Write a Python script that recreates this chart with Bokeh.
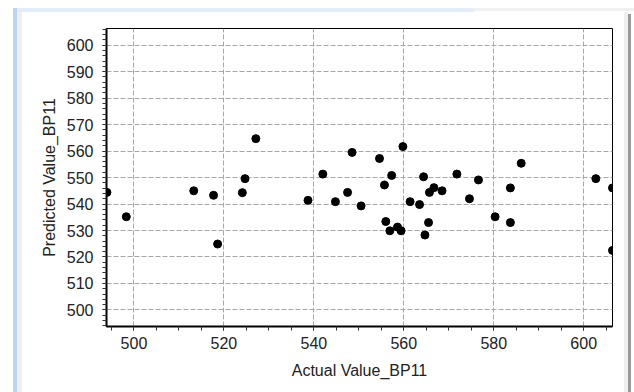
from bokeh.plotting import figure
from bokeh.models import SingleIntervalTicker, Range1d
from bokeh.embed import file_html
from bokeh.resources import INLINE

# Data (Actual vs Predicted, BP11)
actual = [494.0, 498.3, 513.3, 517.7, 518.6, 524.1, 524.7, 527.1,
          538.7, 542.0, 544.8, 547.5, 548.5, 550.5, 554.6, 555.7,
          557.3, 556.0, 556.9, 558.6, 559.4, 559.8, 561.4, 563.5,
          564.4, 565.7, 566.7, 568.5, 565.5, 564.7, 571.8, 574.6,
          576.6, 580.3, 583.7, 583.7, 586.1, 602.7, 606.4, 606.4]
predicted = [544.4, 535.2, 545.0, 543.3, 524.9, 544.3, 549.6, 564.7,
             541.4, 551.3, 540.9, 544.4, 559.5, 539.3, 557.2, 547.2,
             550.8, 533.4, 529.9, 531.3, 529.9, 561.7, 540.9, 539.8,
             550.3, 544.4, 546.2, 545.0, 533.0, 528.3, 551.3, 542.0,
             549.1, 535.2, 546.1, 533.0, 555.4, 549.6, 546.1, 522.5]

x_label = "Actual Value_BP11"
y_label = "Predicted Value_BP11"

FONT = "Liberation Sans"
TXT = "#222222"

p = figure(width=634, height=392, output_backend="svg", toolbar_location=None,
           x_range=Range1d(493.9, 606.4), y_range=Range1d(493.75, 606.3),
           min_border_left=106, min_border_right=22, min_border_top=28,
           min_border_bottom=66)

p.background_fill_color = "white"
p.border_fill_color = None
p.outline_line_color = "black"
p.outline_line_width = 1

# window-like frame around the chart, drawn as CSS backgrounds of the host
layers = [
    ("#9a9a9a", "628px 14px", "3px 378px"),
    ("#f0f0f0", "624px 12px", "4px 380px"),
    ("#bcd4ee", "13px 8px", "4px 384px"),
    ("#efefef", "17px 12px", "5px 380px"),
    ("#e3ecf9", "17px 8px", "457px 4px"),
    ("#f0f0f0", "474px 8px", "160px 3px"),
]
p.styles = {
    "background-color": "white",
    "background-image": ", ".join(f"linear-gradient({c}, {c})" for c, _, _ in layers),
    "background-position": ", ".join(pos for _, pos, _ in layers),
    "background-size": ", ".join(sz for _, _, sz in layers),
    "background-repeat": "no-repeat",
}

p.xaxis.ticker = SingleIntervalTicker(interval=20, num_minor_ticks=4)
p.yaxis.ticker = SingleIntervalTicker(interval=10, num_minor_ticks=5)

for ax in (p.xaxis, p.yaxis):
    ax.axis_line_color = "black"
    ax.axis_line_width = 2
    ax.major_tick_line_color = "#333333"
    ax.minor_tick_line_color = "#333333"
    ax.major_tick_in = 0
    ax.major_tick_out = 4
    ax.minor_tick_in = 0
    ax.minor_tick_out = 4
    ax.major_label_text_font = FONT
    ax.major_label_text_font_size = "16px"
    ax.major_label_text_color = TXT
    ax.axis_label_text_font = FONT
    ax.axis_label_text_font_size = "16px"
    ax.axis_label_text_font_style = "normal"
    ax.axis_label_text_color = TXT

p.xaxis.axis_label = x_label
p.yaxis.axis_label = y_label
p.xaxis.major_label_standoff = 6
p.yaxis.major_label_standoff = 9
p.xaxis.axis_label_standoff = 10
p.yaxis.axis_label_standoff = 6

for g in (p.xgrid, p.ygrid):
    g.grid_line_color = "#a8a8a8"
    g.grid_line_dash = "5 2"
    g.grid_line_width = 1

p.scatter(actual, predicted, size=8, color="black", marker="circle")

open("out.html", "w").write(file_html(p, INLINE))
